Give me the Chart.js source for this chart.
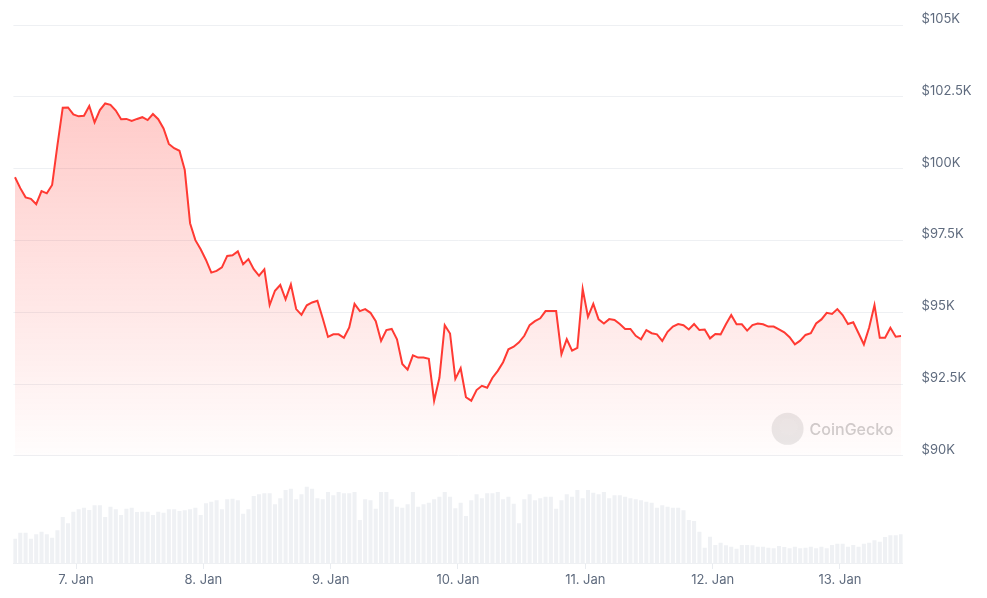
<!DOCTYPE html>
<html>
<head>
<meta charset="utf-8">
<script src="https://cdn.jsdelivr.net/npm/chart.js@4.4.1/dist/chart.umd.min.js"></script>
<style>
    html, body { margin: 0; padding: 0; background: #fff; }
    #wrap { position: relative; width: 987px; height: 598px; }
</style>
</head>
<body>
<div id="wrap"><canvas id="priceChart"></canvas></div>
<script>
// hourly price in USD thousands, first sample around 6 Jan 12:30
const prices = [
    99.70, 99.32, 99.00, 98.95, 98.76, 99.22, 99.14, 99.43, 100.82, 102.12,
    102.13, 101.89, 101.82, 101.84, 102.18, 101.61, 102.04, 102.27, 102.22, 102.02,
    101.72, 101.73, 101.66, 101.73, 101.79, 101.69, 101.90, 101.72, 101.40, 100.86,
    100.71, 100.62, 99.95, 98.10, 97.51, 97.19, 96.82, 96.38, 96.44, 96.56,
    96.96, 96.98, 97.12, 96.67, 96.85, 96.50, 96.27, 96.49, 95.25, 95.75,
    95.95, 95.45, 95.97, 95.11, 94.91, 95.24, 95.34, 95.40, 94.79, 94.14,
    94.23, 94.23, 94.11, 94.47, 95.29, 95.04, 95.11, 94.98, 94.69, 94.00,
    94.38, 94.42, 94.06, 93.20, 93.00, 93.50, 93.42, 93.42, 93.38, 91.92,
    92.72, 94.55, 94.26, 92.68, 93.05, 92.04, 91.92, 92.29, 92.44, 92.37,
    92.72, 92.96, 93.26, 93.71, 93.80, 93.95, 94.18, 94.55, 94.69, 94.79,
    95.04, 95.04, 95.04, 93.54, 94.06, 93.66, 93.76, 95.81, 94.84, 95.29,
    94.75, 94.61, 94.76, 94.73, 94.59, 94.42, 94.42, 94.18, 94.06, 94.38,
    94.27, 94.23, 94.00, 94.32, 94.50, 94.59, 94.55, 94.40, 94.59, 94.38,
    94.40, 94.09, 94.24, 94.23, 94.58, 94.90, 94.58, 94.58, 94.36, 94.55,
    94.61, 94.58, 94.50, 94.50, 94.40, 94.30, 94.13, 93.88, 94.01, 94.21,
    94.27, 94.61, 94.75, 94.98, 94.94, 95.11, 94.90, 94.59, 94.65, 94.27,
    93.88, 94.47, 95.25, 94.11, 94.11, 94.46, 94.15, 94.17
];

// hourly volume, relative units
const volumes = [
    24, 30, 30, 24, 28.3, 31, 28.3, 25, 32.3, 45.7,
    39.3, 51, 53.3, 55, 52.7, 57.3, 57.3, 45.7, 56, 53.3,
    47.7, 54, 55, 50.7, 51, 51, 47.7, 51, 50, 53.3,
    53.3, 51.7, 52.3, 53.3, 55, 47.7, 59.3, 61, 62.3, 53.3,
    63.3, 64, 62.3, 49, 53.3, 66.7, 68.3, 69.3, 69.3, 58.3,
    64.3, 72.7, 74, 63.3, 68.3, 76, 74, 64.3, 63.3, 70.7,
    67.3, 70.7, 69.3, 69.3, 70.7, 42.7, 63.3, 62.3, 54, 70.7,
    70.7, 63.3, 56, 55, 58.3, 70.7, 56, 58.3, 60, 63.3,
    66, 70.7, 66, 54.3, 60, 46.7, 62.3, 68.3,
    64.3, 69.3, 69.3, 70.7, 63.3, 66, 59, 39.3, 63.3, 68.3,
    62.3, 64.3, 66, 66, 54, 62.3, 68.3, 66, 72.7, 64.3,
    72.7, 70, 68.3, 70.7, 64.3, 67.3, 67.3, 66, 64.3, 63.3,
    62.3, 61, 60, 55, 57.3, 56, 55, 55, 52.3, 42.7,
    41.7, 31, 15, 26, 17.7, 20, 17.3, 16, 14, 17.7,
    17.7, 17.3, 16, 16, 15, 14.3, 16.7, 15.7, 14.3, 16,
    14.3, 15, 16, 14.3, 16, 14.3, 17.7, 19, 19, 16,
    17.7, 16, 19, 20, 22.3, 21, 25.7, 27.3, 27.3, 28.3
];

const dayLabels = ['7. Jan', '8. Jan', '9. Jan', '10. Jan', '11. Jan', '12. Jan', '13. Jan'];
const priceTicks = [90, 92.5, 95, 97.5, 100, 102.5, 105];
const firstHour = -11.5; // hours from 7 Jan 00:00

const hours = prices.map((_, i) => firstHour + i);
const textColor = '#5f6b7e';
const gridColor = '#eef0f3';

const watermark = {
    id: 'watermark',
    beforeDatasetsDraw(chart) {
        const ctx = chart.ctx;
        const x = chart.chartArea.right - 115;
        const y = chart.scales.y.getPixelForValue(90) - 27;
        ctx.save();
        ctx.fillStyle = 'rgba(215,215,215,0.55)';
        ctx.beginPath();
        ctx.arc(x, y, 16, 0, Math.PI * 2);
        ctx.fill();
        ctx.fillStyle = 'rgba(235,235,235,0.9)';
        ctx.beginPath();
        ctx.ellipse(x + 1, y - 2, 9, 8, 0, 0, Math.PI * 2);
        ctx.fill();
        ctx.font = '500 16px Inter, sans-serif';
        ctx.fillStyle = '#cfcfcf';
        ctx.textBaseline = 'middle';
        ctx.fillText('CoinGecko', x + 22, y + 1);
        ctx.restore();
    }
};

function makeFill(context) {
    const area = context.chart.chartArea;
    if (!area) return 'rgba(255,58,51,0.2)';
    const yScale = context.chart.scales.y;
    const g = context.chart.ctx.createLinearGradient(0, yScale.getPixelForValue(102.5), 0, yScale.getPixelForValue(90));
    g.addColorStop(0, 'rgba(255,58,51,0.27)');
    g.addColorStop(1, 'rgba(255,58,51,0.01)');
    return g;
}

new Chart(document.getElementById('priceChart'), {
    data: {
        datasets: [
            {
                type: 'line',
                data: hours.map((h, i) => ({ x: h, y: prices[i] })),
                borderColor: '#ff3a33',
                borderWidth: 2,
                backgroundColor: makeFill,
                fill: { value: 90 },
                pointRadius: 0,
                tension: 0,
                yAxisID: 'y',
                order: 1
            },
            {
                type: 'bar',
                data: hours.map((h, i) => ({ x: h, y: volumes[i] })),
                backgroundColor: '#eff1f4',
                barThickness: 3.4,
                yAxisID: 'vol',
                order: 2
            }
        ]
    },
    options: {
        responsive: true,
        maintainAspectRatio: false,
        animation: false,
        layout: { padding: { top: 25, left: 13.4, right: 0, bottom: 0 } },
        plugins: { legend: { display: false }, tooltip: { enabled: false } },
        scales: {
            x: {
                type: 'linear',
                offset: false,
                min: firstHour - 0.3,
                max: firstHour + prices.length - 1 + 0.3,
                afterBuildTicks: (scale) => {
                    scale.ticks = dayLabels.map((_, i) => ({ value: i * 24 }));
                },
                afterFit: (scale) => {
                    scale.height = 35;
                    scale.paddingLeft = 0;
                    scale.paddingRight = 0;
                },
                ticks: {
                    color: textColor,
                    font: { family: 'Inter', size: 13 },
                    padding: 3,
                    maxRotation: 0,
                    autoSkip: false,
                    callback: (v) => dayLabels[Math.round(v / 24)]
                },
                grid: { offset: false, drawOnChartArea: false, color: '#e9ecf0', tickLength: 6 },
                border: { color: gridColor }
            },
            y: {
                position: 'right',
                min: 86.27,
                max: 105,
                afterBuildTicks: (scale) => {
                    scale.ticks = priceTicks.map(v => ({ value: v }));
                },
                afterFit: (scale) => {
                    scale.width = 84.4;
                    scale.paddingTop = 0;
                    scale.paddingBottom = 0;
                },
                ticks: {
                    color: textColor,
                    font: { family: 'Inter', size: 13 },
                    padding: 19,
                    labelOffset: -6,
                    callback: (v) => '$' + v + 'K'
                },
                grid: { color: gridColor, drawTicks: false },
                border: { display: false }
            },
            vol: {
                display: false,
                min: 0,
                max: 538
            }
        }
    },
    plugins: [watermark]
});
</script>
</body>
</html>
